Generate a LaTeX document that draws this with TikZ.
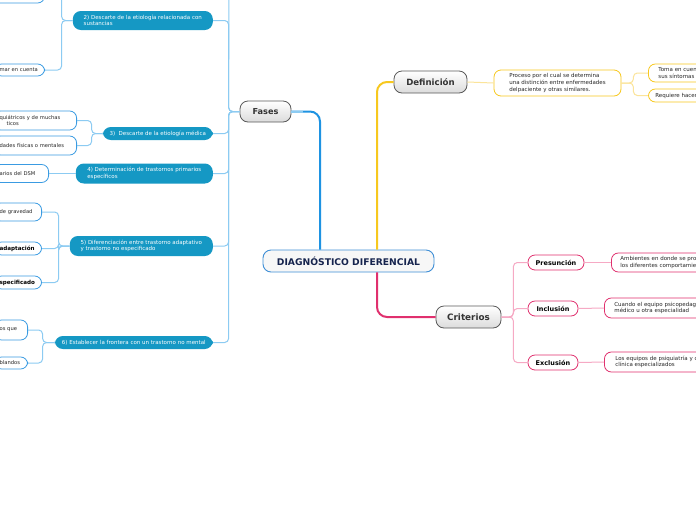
\documentclass[tikz,border=0pt]{standalone}
\usepackage{fontspec}
\setmainfont{DejaVu Sans}
\usetikzlibrary{arrows.meta,calc}
\definecolor{fasesblue}{HTML}{1E93E2}
\definecolor{fasesline}{HTML}{8CCBF2}
\definecolor{phasefill}{HTML}{1598C4}
\definecolor{leafblue}{HTML}{3A9BE2}
\definecolor{defyellow}{HTML}{F7C81E}
\definecolor{defline}{HTML}{FBE49A}
\definecolor{critpink}{HTML}{E0306E}
\definecolor{critline}{HTML}{F6A9C4}
\definecolor{rootnavy}{HTML}{16244E}
\definecolor{rootedge}{HTML}{3F8FD6}

\begin{document}
\begin{tikzpicture}[x=1pt,y=-1pt,
  small/.style={font=\fontsize{5.2}{6.5}\selectfont},
  mid/.style={font=\fontsize{5.5}{6.6}\selectfont},
  root/.style={draw=rootedge,line width=0.9pt,fill=gray!6,rounded corners=8pt,
    minimum width=171pt,minimum height=22pt,text=rootnavy,
    font=\fontsize{9.2}{10}\selectfont\bfseries},
  topic/.style={draw=black!65,line width=0.8pt,top color=white,bottom color=black!14,
    rounded corners=8pt,minimum height=21pt,text=black!80,
    font=\fontsize{8.2}{9}\selectfont\bfseries},
  phase/.style={mid,fill=phasefill,text=white,rounded corners=8pt,align=left,anchor=east},
  bleaf/.style={small,draw=leafblue,line width=0.8pt,fill=white,rounded corners=7pt,
    align=left,anchor=east,text=black!85},
  yleaf/.style={mid,draw=defyellow,line width=0.8pt,fill=white,rounded corners=7pt,
    align=left,text=black!85},
  pleaf/.style={mid,draw=critpink,line width=0.8pt,fill=white,rounded corners=7pt,
    align=left,text=black!85},
  crit/.style={draw=critpink,line width=0.8pt,fill=white,rounded corners=7pt,
    minimum height=15pt,font=\fontsize{6.5}{7.5}\selectfont\bfseries},
  fline/.style={fasesline,line width=1pt,rounded corners=4pt},
  yline/.style={defline,line width=1pt,rounded corners=4pt},
  pline/.style={critline,line width=1pt,rounded corners=4pt}]
\useasboundingbox (0,0) rectangle (696,520);
\clip (0,0) rectangle (696,520);
\fill[white] (0,0) rectangle (696,520);

% centre and main branches
\node[root] (root) at (348.5,261) {DIAGNÓSTICO DIFERENCIAL};
\node[topic,minimum width=51pt] (fases) at (265.5,111.5) {Fases};
\node[topic,minimum width=73pt,minimum height=22pt,font=\fontsize{8.6}{9}\selectfont\bfseries] (def) at (430.5,82) {Definición};
\node[topic,minimum width=65pt,minimum height=22pt,font=\fontsize{8.8}{9}\selectfont\bfseries] (crit) at (468.5,317) {Criterios};

% Fases
\node[phase,minimum width=140pt,minimum height=19pt] (p2) at (213,20.5)
  {2) Descarte de la etiología relacionada con\\sustancias};
\node[phase,minimum width=110pt,minimum height=13pt] (p3) at (213,133.5)
  {3)\ \ Descarte de la etiología médica};
\node[phase,minimum width=137pt,minimum height=20pt] (p4) at (213,173.5)
  {4) Determinación de trastornos primarios\\específicos};
\node[phase,minimum width=143pt,minimum height=20pt] (p5) at (213,246)
  {5) Diferenciación entre trastorno adaptativo\\y trastorno no especificado};
\node[phase,minimum width=158pt,minimum height=13pt] (p6) at (213,342.5)
  {6) Establecer la frontera con un trastorno no mental};
\coordinate (ftop) at (229,-30);

\node[bleaf,text width=70pt,inner xsep=6pt,minimum height=20pt] (n2a) at (45,-7) {};
\node[bleaf,text width=40pt,inner xsep=5pt,minimum height=12pt] (n2b) at (45,70) {mar en cuenta};
\node[bleaf,text width=71pt,inner xsep=6pt,minimum height=19pt] (n3a) at (77,120.5)
  {quiátricos y de muchas\\\hspace*{7pt}ticos};
\node[bleaf,text width=71pt,inner xsep=6pt,minimum height=19pt] (n3b) at (77,145.5)
  {dades físicas o mentales};
\node[bleaf,text width=43pt,inner xsep=6pt,minimum height=18pt] (n4a) at (49,173.5) {arios del DSM};
\node[bleaf,text width=36pt,inner xsep=6pt,minimum height=18pt] (n5a) at (42,212) {de gravedad};
\node[bleaf,text width=37pt,inner xsep=5pt,minimum height=13pt,
  font=\fontsize{5.6}{7}\selectfont\bfseries,text=black] (n5b) at (42,248.5) {adaptación};
\node[bleaf,text width=37pt,inner xsep=5pt,minimum height=13pt,
  font=\fontsize{5.6}{7}\selectfont\bfseries,text=black] (n5c) at (42,282.5) {specificado};
\node[bleaf,text width=23pt,inner xsep=5pt,minimum height=20pt] (n6a) at (28,330) {os que};
\node[bleaf,text width=23pt,inner xsep=5pt,minimum height=12pt] (n6b) at (28,363) {blandos};

% Definicion
\node[yleaf,minimum width=127pt,minimum height=26pt] (d1) at (557.5,83)
  {Proceso por el cual se determina\\una distinción entre enfermedades\\delpaciente y otras similares.};
\node[yleaf,anchor=west,text width=60pt,inner xsep=10pt,minimum height=18pt] (d1a) at (648,73)
  {Toma en cuen\\sus síntomas};
\node[yleaf,anchor=west,text width=66pt,inner xsep=7pt,minimum height=13pt] (d1b) at (648,95.5)
  {Requiere hacer};

% Criterios
\node[crit,minimum width=56pt] (pres) at (556,262.5) {Presunción};
\node[crit,minimum width=50pt] (incl) at (553,308.5) {Inclusión};
\node[crit,minimum width=50pt] (excl) at (553,362.5) {Exclusión};
\node[pleaf,anchor=west,text width=90pt,inner xsep=9pt,minimum height=19pt] (pres1) at (611,262.5)
  {Ambientes en donde se pro\\los diferentes comportamie};
\node[pleaf,anchor=west,text width=90pt,inner xsep=10pt,minimum height=20pt] (incl1) at (604,308)
  {Cuando el equipo psicopedag\\médico u otra especialidad};
\node[pleaf,anchor=west,text width=90pt,inner xsep=11pt,minimum height=20pt] (excl1) at (604,362)
  {Los equipos de psiquiatría y c\\clínica especializados};

% connectors
\draw[fasesblue,line width=2pt,rounded corners=10pt] ([xshift=-28.5pt]root.north) |- (fases.east);
\draw[fasesline,line width=2pt] (fases.east) -- ++(12,0);
\draw[defyellow,line width=2pt,rounded corners=10pt] ([xshift=28.5pt]root.north) |- (def.west);
\draw[critpink,line width=2pt,rounded corners=10pt] ([xshift=28.5pt]root.south) |- (crit.west);

\draw[fline] (fases.west) -- ++(-11,0) -- (ftop);
\foreach \p in {p2,p3,p4,p5,p6}
  \draw[fline] (fases.west) -- ++(-11,0) |- (\p.east);
\draw[fline] (p2.west) -- ++(-11,0) |- (n2a.east);
\draw[fline] (p2.west) -- ++(-11,0) |- (n2b.east);
\draw[fline] (p3.west) -- ++(-11,0) |- (n3a.east);
\draw[fline] (p3.west) -- ++(-11,0) |- (n3b.east);
\draw[fline] (p4.west) -- (n4a.east);
\foreach \n in {n5a,n5b,n5c}
  \draw[fline] (p5.west) -- ++(-11,0) |- (\n.east);
\draw[fline] (p6.west) -- ++(-12,0) |- (n6a.east);
\draw[fline] (p6.west) -- ++(-12,0) |- (n6b.east);

\draw[yline] (def.east) -- (d1.west);
\draw[yline] (d1.east) -- ++(12,0) |- (d1a.west);
\draw[yline] (d1.east) -- ++(12,0) |- (d1b.west);

\foreach \c in {pres,incl,excl}
  \draw[pline] (crit.east) -- ++(12,0) |- (\c.west);
\draw[pline] (pres.east) -- (pres1.west);
\draw[pline] (incl.east) -- (incl1.west);
\draw[pline] (excl.east) -- (excl1.west);
\end{tikzpicture}
\end{document}
